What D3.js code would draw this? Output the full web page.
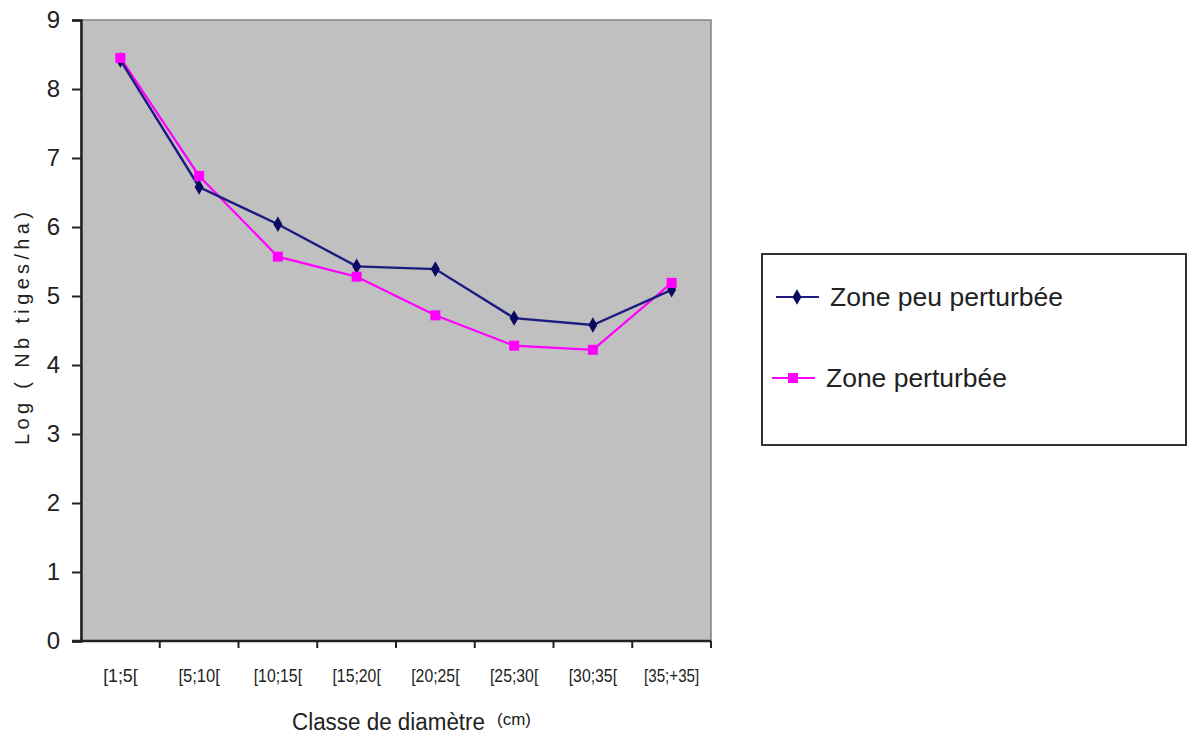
<!DOCTYPE html>
<html>
<head>
<meta charset="utf-8">
<script src="https://cdn.jsdelivr.net/npm/d3@7"></script>
<style>
  html, body { margin: 0; padding: 0; background: #ffffff; }
  svg { display: block; font-family: "Liberation Sans", Arial, sans-serif; }
</style>
</head>
<body>
<svg id="chart" width="1188" height="736"></svg>
<script>
// Diameter classes (cm)
const categories = ["[1;5[", "[5;10[", "[10;15[", "[15;20[", "[20;25[", "[25;30[", "[30;35[", "[35;+35]"];
// Log(number of stems per ha) for each zone
const peuPerturbee = [8.42, 6.58, 6.04, 5.43, 5.39, 4.68, 4.58, 5.09];
const perturbee    = [8.45, 6.74, 5.57, 5.28, 4.72, 4.28, 4.22, 5.19];
const yTicks = [0, 1, 2, 3, 4, 5, 6, 7, 8, 9];
const seriesNames = ["Zone peu perturbée", "Zone perturbée"];

const svg = d3.select("#chart");
const plot = { left: 81, right: 711, top: 20, bottom: 641 };

const x = d3.scaleBand().domain(categories).range([plot.left, plot.right]);
const y = d3.scaleLinear().domain([0, 9]).range([plot.bottom, plot.top]);

// plot area
svg.append("rect")
  .attr("x", plot.left).attr("y", plot.top)
  .attr("width", plot.right - plot.left).attr("height", plot.bottom - plot.top)
  .attr("fill", "#c0c0c0").attr("stroke", "#808080").attr("stroke-width", 1.5);

// y axis
const yAxis = svg.append("g")
  .attr("transform", `translate(${plot.left},0)`)
  .call(d3.axisLeft(y).tickValues(yTicks).tickSize(9).tickPadding(12).tickFormat(d3.format("d")));
yAxis.select(".domain").attr("stroke", "#222").attr("stroke-width", 2.5);
yAxis.selectAll(".tick line").attr("stroke", "#222").attr("stroke-width", 2);
yAxis.selectAll(".tick text").attr("font-size", 24).attr("fill", "#222")
  .attr("font-family", "'Liberation Sans', Arial, sans-serif");

// x axis: ticks sit on category boundaries
const xAxisG = svg.append("g").attr("transform", `translate(0,${plot.bottom})`);
xAxisG.append("line")
  .attr("x1", plot.left - 9).attr("x2", plot.right)
  .attr("stroke", "#222").attr("stroke-width", 2.5);
const boundaries = categories.map(c => x(c)).concat([x.range()[1]]);
xAxisG.selectAll("line.tk").data(boundaries.slice(1)).join("line")
  .attr("class", "tk")
  .attr("x1", d => d).attr("x2", d => d).attr("y1", 0).attr("y2", 7)
  .attr("stroke", "#222").attr("stroke-width", 2);
xAxisG.selectAll("text").data(categories).join("text")
  .attr("x", d => x(d) + x.bandwidth() / 2)
  .attr("y", 41)
  .attr("text-anchor", "middle")
  .attr("font-size", 19)
  .attr("fill", "#222")
  .attr("textLength", d => d.length * 6.9)
  .attr("lengthAdjust", "spacingAndGlyphs")
  .text(d => d);

// axis titles
svg.append("text")
  .attr("x", 292).attr("y", 730)
  .attr("font-size", 23).attr("fill", "#222")
  .attr("textLength", 193).attr("lengthAdjust", "spacingAndGlyphs")
  .text("Classe de diamètre");
svg.append("text")
  .attr("x", 497).attr("y", 725)
  .attr("font-size", 17).attr("fill", "#222")
  .text("(cm)");
svg.append("text")
  .attr("transform", "translate(29,445) rotate(-90)")
  .attr("font-size", 20).attr("fill", "#222")
  .attr("textLength", 233).attr("lengthAdjust", "spacing")
  .text("Log ( Nb tiges/ha)");

// series
const cx = d => x(d) + x.bandwidth() / 2;
const line = d3.line().x((d, i) => cx(categories[i])).y(d => y(d));

svg.append("path").datum(perturbee)
  .attr("d", line).attr("fill", "none")
  .attr("stroke", "#ff00ff").attr("stroke-width", 2.2);
svg.append("path").datum(peuPerturbee)
  .attr("d", line).attr("fill", "none")
  .attr("stroke", "#1c1c80").attr("stroke-width", 2.4);

const diamond = d3.symbol().type(d3.symbolDiamond).size(70);
svg.selectAll("path.m1").data(peuPerturbee).join("path")
  .attr("class", "m1")
  .attr("transform", (d, i) => `translate(${cx(categories[i])},${y(d)})`)
  .attr("d", diamond).attr("fill", "#0a0a60");
svg.selectAll("rect.m2").data(perturbee).join("rect")
  .attr("class", "m2")
  .attr("x", (d, i) => cx(categories[i]) - 5).attr("y", d => y(d) - 5)
  .attr("width", 10).attr("height", 10).attr("fill", "#ff00ff");

// legend
const lg = svg.append("g");
lg.append("rect").attr("x", 762).attr("y", 254).attr("width", 424).attr("height", 191)
  .attr("fill", "#fff").attr("stroke", "#333").attr("stroke-width", 2);
const legendRows = [
  { name: seriesNames[0], color: "#1c1c80", y: 297, x1: 776, kind: "diamond", tl: 233 },
  { name: seriesNames[1], color: "#ff00ff", y: 378, x1: 772, kind: "square", tl: 181 }
];
legendRows.forEach(r => {
  lg.append("line").attr("x1", r.x1).attr("x2", r.x1 + 43).attr("y1", r.y).attr("y2", r.y)
    .attr("stroke", r.color).attr("stroke-width", 2.2);
  if (r.kind === "diamond") {
    lg.append("path").attr("transform", `translate(${r.x1 + 21},${r.y})`)
      .attr("d", diamond).attr("fill", "#0a0a60");
  } else {
    lg.append("rect").attr("x", r.x1 + 16).attr("y", r.y - 5).attr("width", 10).attr("height", 10)
      .attr("fill", r.color);
  }
  lg.append("text").attr("x", r.x1 + 54).attr("y", r.y + 9)
    .attr("font-size", 26).attr("fill", "#222")
    .attr("textLength", r.tl).attr("lengthAdjust", "spacingAndGlyphs")
    .text(r.name);
});
</script>
</body>
</html>
